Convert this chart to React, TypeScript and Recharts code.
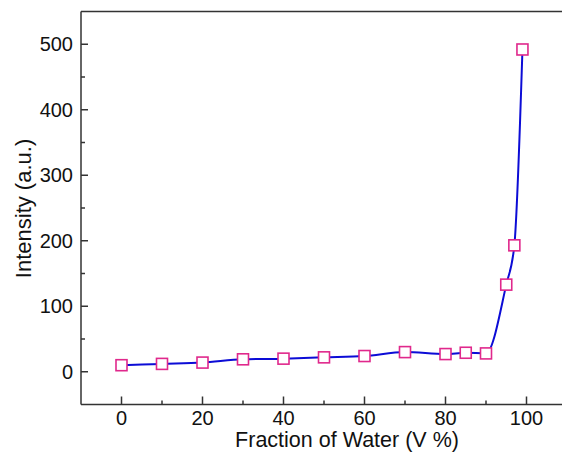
import { LineChart, Line, XAxis, YAxis, ReferenceLine, Label } from 'recharts';

const waterFraction = [0, 10, 20, 30, 40, 50, 60, 70, 80, 85, 90, 95, 97, 99];
const intensity = [10, 12, 14, 19, 20, 22, 24, 30, 27, 29, 28, 133, 193, 492];

const xMajorTicks = [0, 20, 40, 60, 80, 100];
const xMinorTicks = [10, 30, 50, 70, 90];
const yMajorTicks = [0, 100, 200, 300, 400, 500];
const yMinorTicks = [50, 150, 250, 350, 450];

const data = waterFraction.map((x, i) => ({ x, y: intensity[i] }));

const FONT = '"Liberation Sans", Arial, sans-serif';
const AXIS = '#333';

function XTick(props: any) {
  const { x, y, payload } = props;
  const major = xMajorTicks.includes(payload.value);
  return (
    <g>
      <line x1={x} x2={x} y1={y} y2={y - (major ? 8 : 4)} stroke={AXIS} strokeWidth={1.5} />
      {major && (
        <text x={x} y={y + 20} textAnchor="middle" fontSize={20} fontFamily={FONT} fill="#111">
          {payload.value}
        </text>
      )}
    </g>
  );
}

function YTick(props: any) {
  const { x, y, payload } = props;
  const major = yMajorTicks.includes(payload.value);
  return (
    <g>
      <line x1={x} x2={x + (major ? 7 : 4)} y1={y} y2={y} stroke={AXIS} strokeWidth={1.5} />
      {major && (
        <text x={x - 8} y={y + 7} textAnchor="end" fontSize={20} fontFamily={FONT} fill="#111">
          {payload.value}
        </text>
      )}
    </g>
  );
}

function SquareDot(props: any) {
  const { cx, cy } = props;
  if (cx == null || cy == null) return null;
  return (
    <rect x={cx - 5.5} y={cy - 5.5} width={11} height={11} fill="#fff" stroke="#e0288c" strokeWidth={1.6} />
  );
}

export default function App() {
  return (
    <div style={{ position: 'absolute', left: 0, top: 0, width: 562, height: 457, overflow: 'hidden', background: '#fff' }}>
      <LineChart width={567} height={457} data={data} margin={{ top: 11.5, right: 0, left: 0, bottom: 0 }}>
        <XAxis
          dataKey="x"
          type="number"
          domain={[-10, 110]}
          ticks={[...xMajorTicks, ...xMinorTicks].sort((a, b) => a - b)}
          interval={0}
          height={52.5}
          tickSize={0}
          tickMargin={0}
          tickLine={false}
          axisLine={{ stroke: AXIS, strokeWidth: 1.5 }}
          tick={<XTick />}
          allowDataOverflow
        >
          <Label
            content={() => (
              <text x={347} y={446.5} textAnchor="middle" fontSize={21.5} fontFamily={FONT} fill="#111">
                Fraction of Water (V %)
              </text>
            )}
          />
        </XAxis>
        <YAxis
          type="number"
          domain={[-50, 550]}
          ticks={[...yMajorTicks, ...yMinorTicks].sort((a, b) => a - b)}
          interval={0}
          width={81}
          tickSize={0}
          tickMargin={0}
          tickLine={false}
          axisLine={{ stroke: AXIS, strokeWidth: 1.5 }}
          tick={<YTick />}
          allowDataOverflow
        >
          <Label
            content={() => (
              <text
                x={31}
                y={208.5}
                textAnchor="middle"
                fontSize={22}
                fontFamily={FONT}
                fill="#111"
                transform="rotate(-90 31 208.5)"
              >
                Intensity (a.u.)
              </text>
            )}
          />
        </YAxis>
        <ReferenceLine y={550} stroke={AXIS} strokeWidth={1.5} />
        <Line
          dataKey="y"
          type="monotone"
          stroke="#0c0cd6"
          strokeWidth={2}
          dot={<SquareDot />}
          activeDot={false}
          isAnimationActive={false}
        />
      </LineChart>
    </div>
  );
}
